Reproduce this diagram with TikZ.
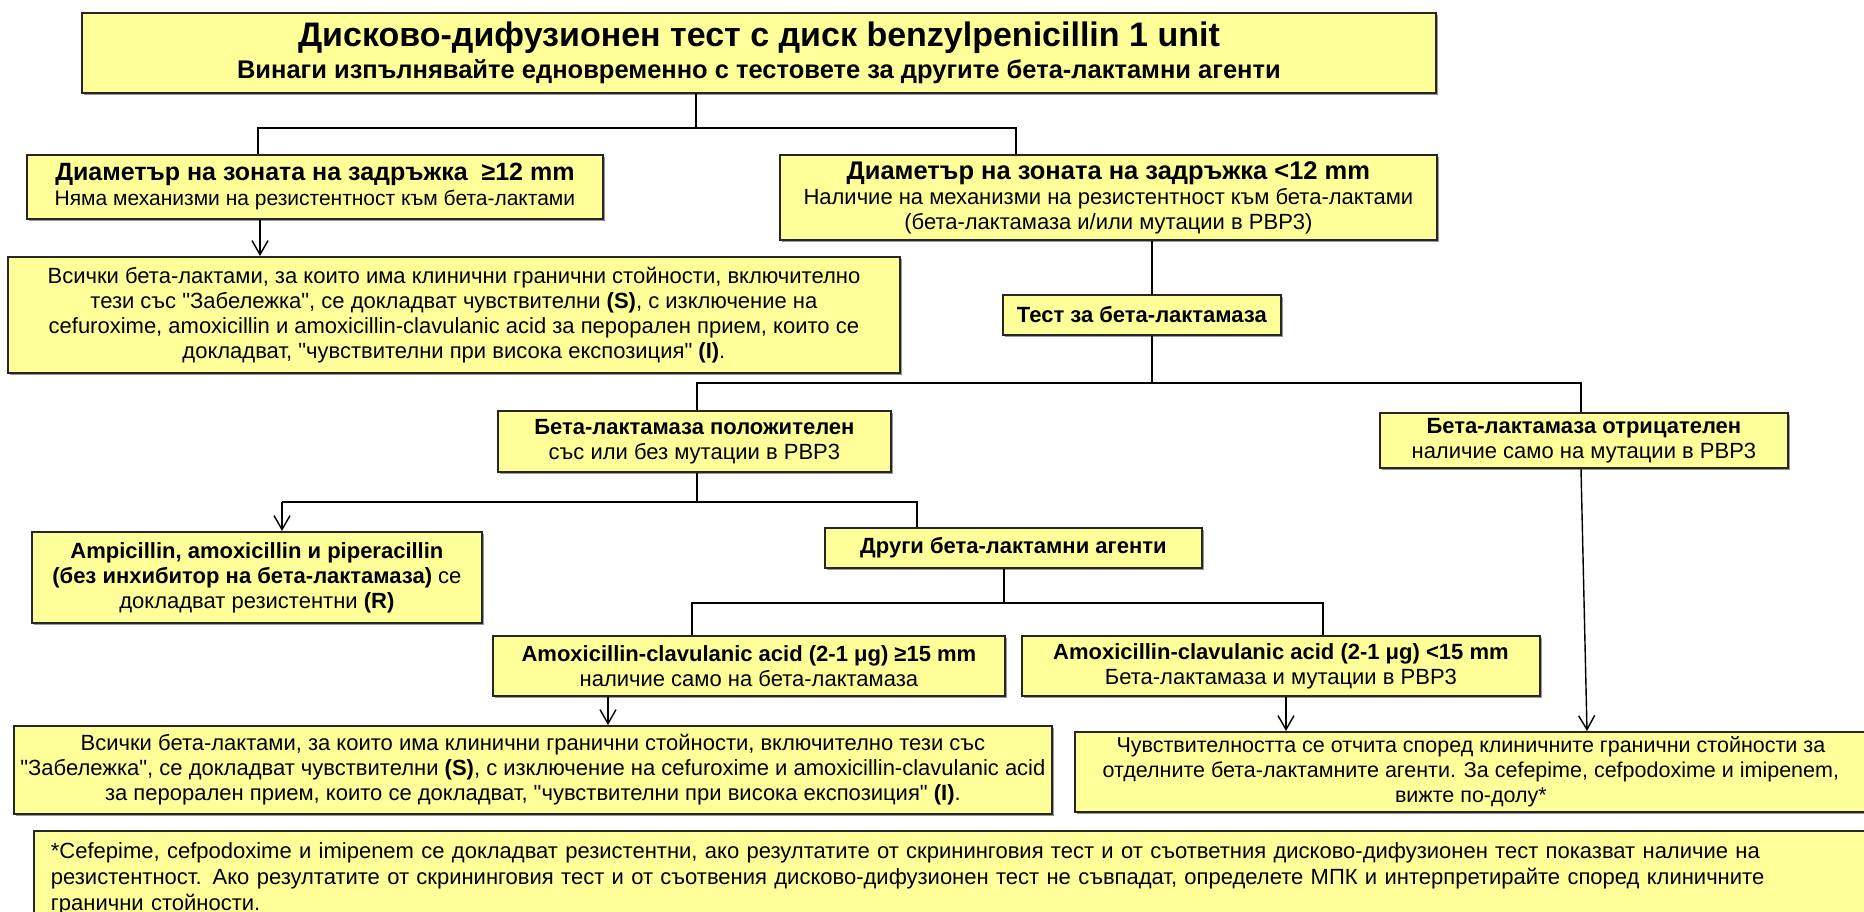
\documentclass[tikz,border=0pt]{standalone}
\usepackage{fontspec}
\setmainfont{Liberation Sans}[Ligatures=TeXOff]
\usetikzlibrary{arrows.meta,shadows,calc}
\definecolor{boxy}{HTML}{FFFF99}
\begin{document}
\begin{tikzpicture}[x=1pt,y=-1pt,
  box/.style={draw=black!85, line width=1.8pt, fill=boxy, inner sep=0pt, align=center,
    anchor=north west,
    drop shadow={shadow xshift=2pt,shadow yshift=-2pt,fill=black!40,opacity=1},
    font=\fontsize{22}{25}\selectfont},
  conn/.style={line width=1.4pt, draw=black},
  arr/.style={conn, -{Straight Barb[length=14pt,width=16pt,line width=1.4pt]}}
]
\useasboundingbox (0,0) rectangle (1864,912);
\clip (0,0) rectangle (1864,912);

% boxes
\node[box, minimum width=1354pt, minimum height=80pt, font=\fontsize{25.5}{32}\selectfont\bfseries] (top) at (81,12)
  {{\fontsize{34}{40}\selectfont Дисково-дифузионен тест с диск benzylpenicillin 1 unit}\\
   Винаги изпълнявайте едновременно с тестовете за другите бета-лактамни агенти};

\node[box, minimum width=576pt, minimum height=64pt] (ge12) at (26,154)
  {{\fontsize{25}{27}\selectfont\bfseries Диаметър на зоната на задръжка\ \ ≥12 mm}\\
   {\fontsize{21}{25}\selectfont Няма механизми на резистентност към бета-лактами}};

\node[box, minimum width=657pt, minimum height=85pt] (lt12) at (779,154)
  {{\fontsize{25.5}{27}\selectfont\bfseries Диаметър на зоната на задръжка <12 mm}\\
   Наличие на механизми на резистентност към бета-лактами\\
   (бета-лактамаза и/или мутации в PBP3)};

\node[box, minimum width=892pt, minimum height=116pt] (allS1) at (7,256)
  {Всички бета-лактами, за които има клинични гранични стойности, включително\\
   тези със "Забележка", се докладват чувствителни {\bfseries (S)}, с изключение на\\
   cefuroxime, amoxicillin и amoxicillin-clavulanic acid за перорален прием, които се\\
   докладват, "чувствителни при висока експозиция" {\bfseries (I)}.};

\node[box, minimum width=278pt, minimum height=40pt] (bltest) at (1002,294)
  {\bfseries Тест за бета-лактамаза};

\node[box, minimum width=393pt, minimum height=61pt] (blpos) at (497,410)
  {{\bfseries Бета-лактамаза положителен}\\ със или без мутации в PBP3};

\node[box, minimum width=408pt, minimum height=55pt] (blneg) at (1379,412)
  {{\bfseries Бета-лактамаза отрицателен}\\ наличие само на мутации в PBP3};

\node[box, minimum width=450pt, minimum height=91pt] (ampR) at (31,531)
  {{\bfseries Ampicillin, amoxicillin и piperacillin}\\
   {\bfseries (без инхибитор на бета-лактамаза)} се\\
   докладват резистентни {\bfseries (R)}};

\node[box, minimum width=377pt, minimum height=40pt] (other) at (824,527)
  {\bfseries Други бета-лактамни агенти};

\node[box, minimum width=512pt, minimum height=60pt] (ac15) at (492,635)
  {{\bfseries Amoxicillin-clavulanic acid (2-1 μg) ≥15 mm}\\ наличие само на бета-лактамаза};

\node[box, minimum width=518pt, minimum height=60pt] (aclt) at (1021,635)
  {{\bfseries Amoxicillin-clavulanic acid (2-1 μg) <15 mm}\\ Бета-лактамаза и мутации в PBP3};

\node[box, minimum width=1038pt, minimum height=88pt] (allS2) at (13,725)
  {Всички бета-лактами, за които има клинични гранични стойности, включително тези със\\
   "Забележка", се докладват чувствителни {\bfseries (S)}, с изключение на cefuroxime и amoxicillin-clavulanic acid\\
   за перорален прием, които се докладват, "чувствителни при висока експозиция" {\bfseries (I)}.};

\node[box, minimum width=792pt, minimum height=80pt, font=\fontsize{21.5}{25}\selectfont] (sep) at (1074,731)
  {Чувствителността се отчита според клиничните гранични стойности за\\
   отделните бета-лактамните агенти. За cefepime, cefpodoxime и imipenem,\\
   вижте по-долу*};

\node[box, align=left, text width=1800pt, inner xsep=17pt, inner ysep=12pt, font=\fontsize{22}{26}\selectfont] (foot) at (33,830)
  {*Cefepime, cefpodoxime и imipenem се докладват резистентни, ако резултатите от скрининговия тест и от съответния дисково-дифузионен тест показват наличие на\\
   резистентност. Ако резултатите от скрининговия тест и от съотвения дисково-дифузионен тест не съвпадат, определете МПК и интерпретирайте според клиничните\\
   гранични стойности.};

% junction coordinates
\coordinate (j1) at (696,128);
\coordinate (j1L) at (258,128);
\coordinate (j1R) at (1016,128);
\coordinate (a1) at (260,0);
\coordinate (a2) at (1152,383);
\coordinate (j2L) at (697,383);
\coordinate (j2R) at (1581,383);
\coordinate (j3) at (697,502);
\coordinate (j3L) at (282,502);
\coordinate (j3R) at (917,502);
\coordinate (j4) at (1004,603);
\coordinate (j4L) at (692,603);
\coordinate (j4R) at (1323,603);
\coordinate (a3) at (608,0);
\coordinate (a4) at (1286,0);
\coordinate (a5) at (1587,0);

% connectors
\draw[conn] (top.south -| j1) -- (j1);
\draw[conn] (ge12.north -| j1L) |- (j1R) -- (lt12.north -| j1R);
\draw[arr] (ge12.south -| a1) -- (allS1.north -| a1);
\draw[conn] (lt12.south -| a2) -- (bltest.north -| a2);
\draw[conn] (bltest.south -| a2) -- (a2);
\draw[conn] (blpos.north -| j2L) |- (j2R) -- (blneg.north -| j2R);
\draw[conn] (blpos.south -| j3) -- (j3);
\draw[conn] (j3L) -- (j3R) -- (other.north -| j3R);
\draw[arr] (j3L) -- (ampR.north -| j3L);
\draw[conn] (other.south -| j4) -- (j4);
\draw[conn] (ac15.north -| j4L) |- (j4R) -- (aclt.north -| j4R);
\draw[arr] (ac15.south -| a3) -- (allS2.north -| a3);
\draw[arr] (aclt.south -| a4) -- (sep.north -| a4);
\draw[arr] (blneg.south -| j2R) -- (sep.north -| a5);
\end{tikzpicture}
\end{document}
